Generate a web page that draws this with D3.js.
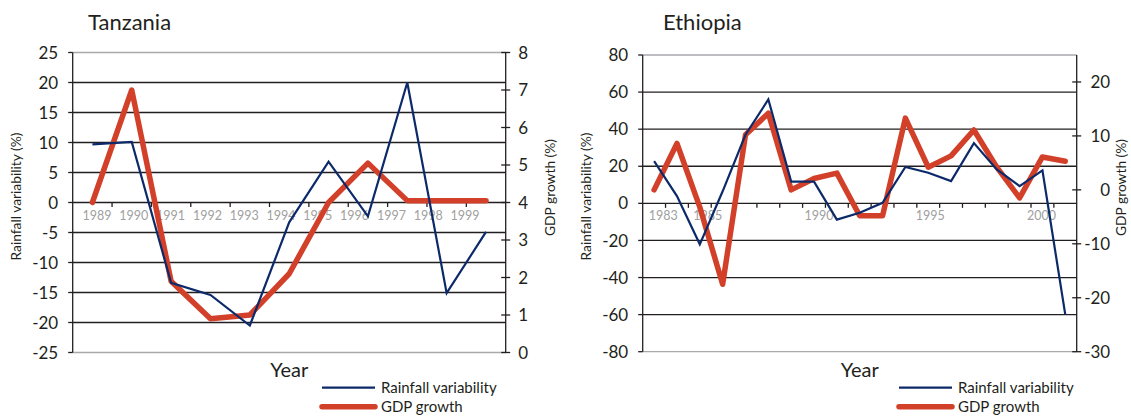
<!DOCTYPE html>
<html>
<head>
<meta charset="utf-8">
<script src="https://cdn.jsdelivr.net/npm/d3@7"></script>
<style>
  body { margin: 0; background: #fff; }
  text { font-family: "Lato", "Open Sans", sans-serif; fill: #231f20; }
</style>
</head>
<body>
<svg id="chart" width="1131" height="416"></svg>
<script>
// Tanzania
var tzYears = [1989, 1990, 1991, 1992, 1993, 1994, 1995, 1996, 1997, 1998, 1999];
var tzRain = [9.7, 10.1, -13.4, -15.4, -20.5, -3.3, 6.8, -2.3, 20.0, -15.1, -4.9];
var tzGdp = [4.0, 7.0, 1.9, 0.9, 1.0, 2.1, 4.0, 5.05, 4.05, 4.05, 4.05];
var tzLabelYears = [1989, 1990, 1991, 1992, 1993, 1994, 1995, 1996, 1997, 1998, 1999];
var tzLeftTicks = [-25, -20, -15, -10, -5, 0, 5, 10, 15, 20, 25];
var tzRightTicks = [0, 1, 2, 3, 4, 5, 6, 7, 8];
var tzRightDomain = [0, 8];

// Ethiopia
var etYears = [1983, 1984, 1985, 1986, 1987, 1988, 1989, 1990, 1991, 1992,
               1993, 1994, 1995, 1996, 1997, 1998, 1999, 2000, 2001];
var etRain = [22.8, 3.9, -22.1, 6.5, 37, 56, 11.7, 11.7, -8.8, -5.1,
              0.3, 19.6, 16.5, 12, 32.5, 18.3, 9.3, 17.8, -60];
var etGdp = [0, 8.6, -3.2, -17.5, 10.2, 14.2, 0, 2.1, 3.1, -4.8,
             -4.8, 13.3, 4.2, 6.3, 11.1, 4.2, -1.5, 6.1, 5.3];
var etLabelYears = [1983, 1985, 1990, 1995, 2000];
var etLeftTicks = [-80, -60, -40, -20, 0, 20, 40, 60, 80];
var etRightTicks = [-30, -20, -10, 0, 10, 20];
var etRightDomain = [-30, 25];

var blue = "#0c2a6a", red = "#d2402a";

var panels = [
    { title: "Tanzania", years: tzYears, rain: tzRain, gdp: tzGdp, labelYears: tzLabelYears,
      leftTicks: tzLeftTicks, rightTicks: tzRightTicks, rightDomain: tzRightDomain,
      left: 72.7, right: 505.7, top: 52.5, bottom: 352.5, labelRange: [97, 465],
      titleX: 88, rightAnchor: "start", rightDx: 12.6, legendX: 322 },
    { title: "Ethiopia", years: etYears, rain: etRain, gdp: etGdp, labelYears: etLabelYears,
      leftTicks: etLeftTicks, rightTicks: etRightTicks, rightDomain: etRightDomain,
      left: 642.7, right: 1076.7, top: 55, bottom: 351.7, labelRange: [663.3, 1041.5],
      titleX: 663, rightAnchor: "end", rightDx: 33.5, legendX: 899 }
];

var svg = d3.select("#chart");
panels.forEach(drawPanel);

function drawPanel(p) {
    var g = svg.append("g");

    var x = d3.scaleBand().domain(p.years).range([p.left, p.right]);
    var y = d3.scaleLinear().domain(d3.extent(p.leftTicks)).range([p.bottom, p.top]);
    var y2 = d3.scaleLinear().domain(p.rightDomain).range([p.bottom, p.top]);
    var xLab = d3.scaleLinear().domain(d3.extent(p.labelYears)).range(p.labelRange);
    var cx = function(d) { return x(d) + x.bandwidth() / 2; };

    // gridlines
    g.selectAll(".grid").data(p.leftTicks).enter().append("line")
        .attr("x1", p.left).attr("x2", p.right)
        .attr("y1", y).attr("y2", y)
        .attr("stroke", function(d, i) {
            return (i == 0 || i == p.leftTicks.length - 1) ? "#a7a9ac" : "#231f20";
        })
        .attr("stroke-width", 1.3);

    // left axis
    g.append("line").attr("x1", p.left).attr("x2", p.left)
        .attr("y1", p.top).attr("y2", p.bottom)
        .attr("stroke", "#231f20").attr("stroke-width", 1.3);
    g.selectAll(".lt").data(p.leftTicks).enter().append("line")
        .attr("x1", p.left - 4.5).attr("x2", p.left)
        .attr("y1", y).attr("y2", y)
        .attr("stroke", "#231f20").attr("stroke-width", 1.3);
    g.selectAll(".ll").data(p.leftTicks).enter().append("text")
        .attr("x", p.left - 14.5).attr("y", y).attr("dy", "0.36em")
        .attr("text-anchor", "end").attr("font-size", 17)
        .text(function(d) { return d; });

    // right axis
    g.append("line").attr("x1", p.right).attr("x2", p.right)
        .attr("y1", p.top).attr("y2", p.bottom)
        .attr("stroke", "#231f20").attr("stroke-width", 1.3);
    g.selectAll(".rt").data(p.rightTicks).enter().append("line")
        .attr("x1", p.right - 4.5).attr("x2", p.right + 4.5)
        .attr("y1", y2).attr("y2", y2)
        .attr("stroke", "#231f20").attr("stroke-width", 1.3);
    g.selectAll(".rl").data(p.rightTicks).enter().append("text")
        .attr("x", p.right + p.rightDx).attr("y", y2).attr("dy", "0.36em")
        .attr("text-anchor", p.rightAnchor).attr("font-size", 17)
        .text(function(d) { return d; });

    // category ticks on the zero line
    var y0 = y(0);
    g.selectAll(".xt").data(p.years.slice(1)).enter().append("line")
        .attr("x1", x).attr("x2", x)
        .attr("y1", y0).attr("y2", y0 + 4.5)
        .attr("stroke", "#231f20").attr("stroke-width", 1.3);
    g.selectAll(".xl").data(p.labelYears).enter().append("text")
        .attr("x", xLab).attr("y", y0 + 17)
        .attr("text-anchor", "middle").attr("font-size", 12.5)
        .style("fill", "#a0a0a0")
        .text(function(d) { return d; });

    // series
    var rainLine = d3.line()
        .x(function(d, i) { return cx(p.years[i]); })
        .y(function(d) { return y(d); });
    var gdpLine = d3.line()
        .x(function(d, i) { return cx(p.years[i]); })
        .y(function(d) { return y2(d); });

    g.append("path").datum(p.gdp).attr("d", gdpLine)
        .attr("fill", "none").attr("stroke", red).attr("stroke-width", 5.5)
        .attr("stroke-linejoin", "round").attr("stroke-linecap", "round");
    g.append("path").datum(p.rain).attr("d", rainLine)
        .attr("fill", "none").attr("stroke", blue).attr("stroke-width", 2.2)
        .attr("stroke-linejoin", "miter");

    // titles
    g.append("text").attr("x", p.titleX).attr("y", 30)
        .attr("font-size", 22).text(p.title);
    g.append("text").attr("x", (p.left + p.right) / 2).attr("y", 377)
        .attr("text-anchor", "middle").attr("font-size", 20).text("Year");
    g.append("text")
        .attr("transform", "translate(" + (p.left - 52) + ",196.5) rotate(-90)")
        .attr("text-anchor", "middle").attr("font-size", 13.8)
        .text("Rainfall variability (%)");
    g.append("text")
        .attr("transform", "translate(" + (p.right + 49) + ",187.5) rotate(-90)")
        .attr("text-anchor", "middle").attr("font-size", 13.8)
        .text("GDP growth (%)");

    // legend
    var leg = [{ name: "Rainfall variability", color: blue, w: 2.2, y: 387.7 },
               { name: "GDP growth", color: red, w: 5.5, y: 406.7 }];
    leg.forEach(function(l) {
        g.append("line").attr("x1", p.legendX).attr("x2", p.legendX + 53)
            .attr("y1", l.y).attr("y2", l.y)
            .attr("stroke", l.color).attr("stroke-width", l.w)
            .attr("stroke-linecap", l.w > 3 ? "round" : "butt");
        g.append("text").attr("x", p.legendX + 59).attr("y", l.y).attr("dy", "0.36em")
            .attr("font-size", 15).text(l.name);
    });
}
</script>
</body>
</html>
